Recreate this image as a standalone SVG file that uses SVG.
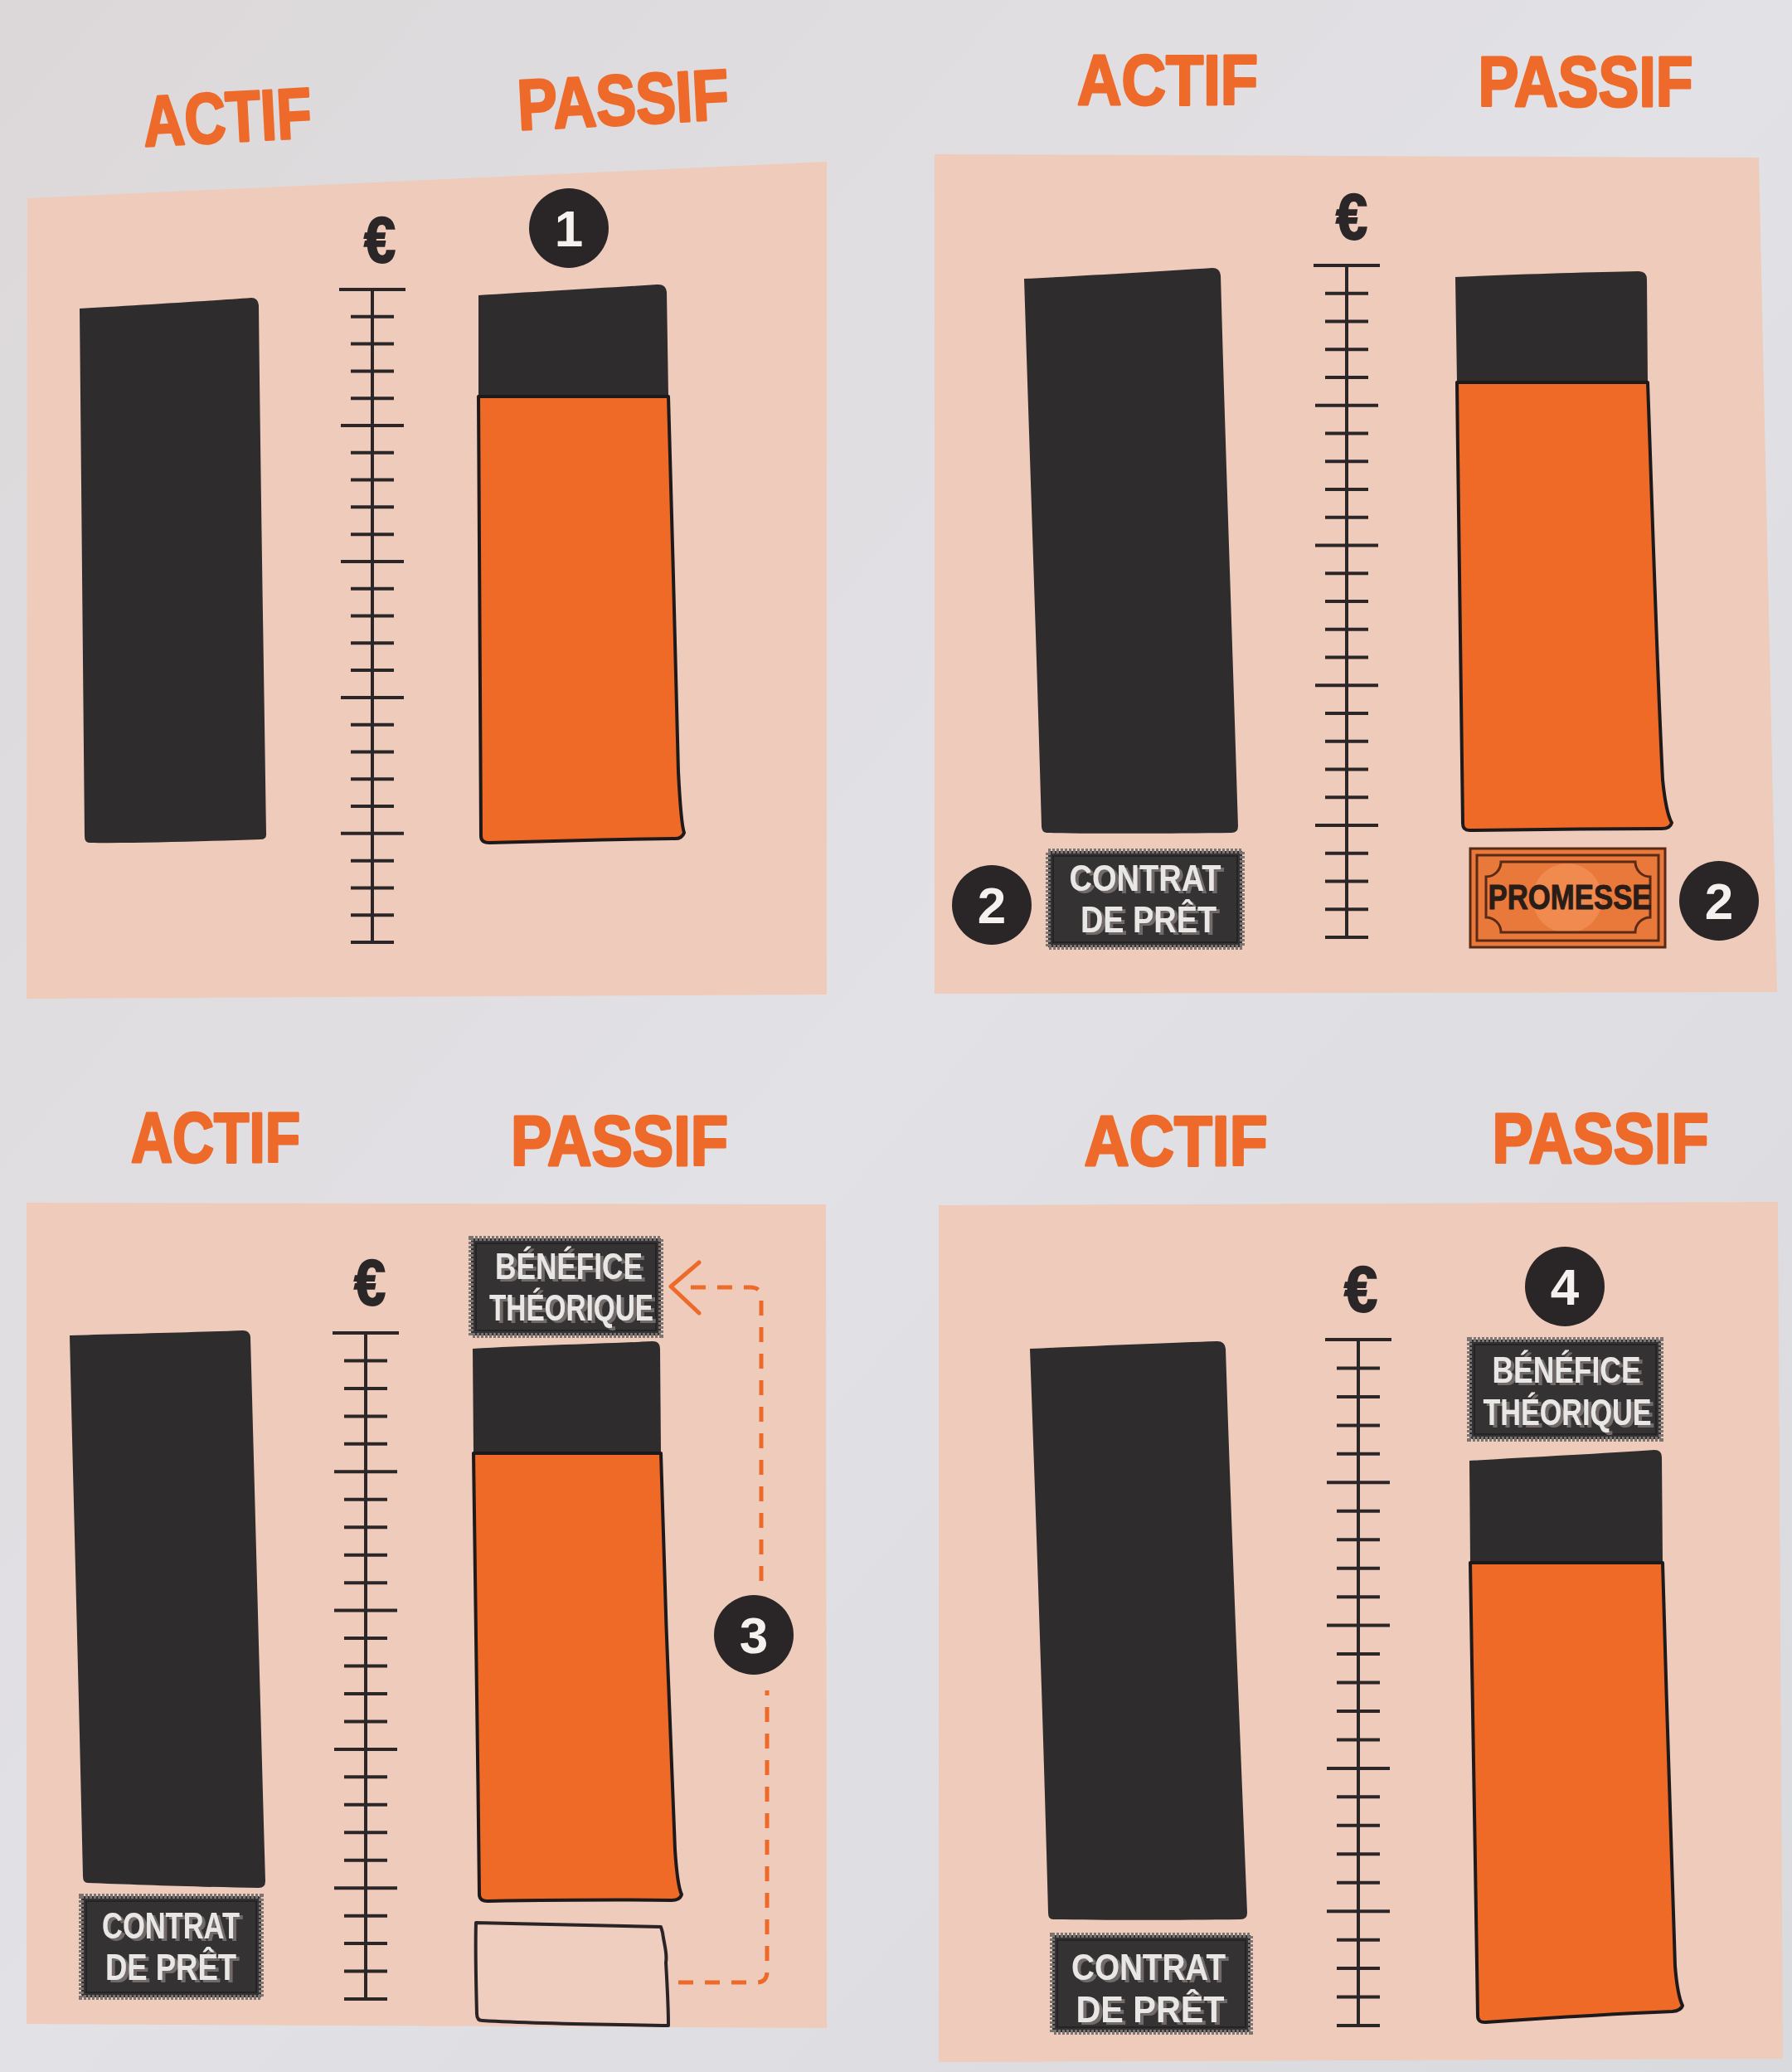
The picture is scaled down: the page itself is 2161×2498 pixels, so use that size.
<svg xmlns="http://www.w3.org/2000/svg" xmlns:xlink="http://www.w3.org/1999/xlink" width="2161" height="2498" viewBox="0 0 2161 2498">
<style>
.hdr{font-family:"Liberation Sans","Noto Sans",sans-serif;font-weight:700;font-size:86px;fill:#ee6a2b;stroke:#ee6a2b;stroke-width:3;stroke-linejoin:round;text-anchor:middle}
.panel{fill:#efcbbb}
.dark{fill:#2f2c2d}
.orange{fill:#ee6a26;stroke:#1e1a1b;stroke-width:4;stroke-linejoin:round}
.euro{font-family:"Liberation Sans","DejaVu Sans",sans-serif;font-weight:700;font-size:78px;fill:#2b2728;stroke:#2b2728;stroke-width:2;text-anchor:middle}
.badge{fill:#2a2627}
.num{font-family:"Liberation Sans","DejaVu Sans",sans-serif;font-weight:700;font-size:62px;fill:#f4f1ef;text-anchor:middle}
.lbl{fill:#353233;stroke:#7a7472;stroke-width:6;stroke-dasharray:3 2}
.lblin{fill:none;stroke:#262324;stroke-width:2}
.lt{font-family:"Liberation Sans","DejaVu Sans",sans-serif;font-weight:700;font-size:45px;fill:#e9e7e5;text-anchor:middle;filter:url(#shade)}
.prom{fill:#e9793b;stroke:#5a2a16;stroke-width:3}
.promline{fill:none;stroke:#5a2a16;stroke-width:3}
.pt{font-family:"Liberation Sans","DejaVu Sans",sans-serif;font-weight:700;font-size:43px;fill:#2a1c17;stroke:#2a1c17;stroke-width:1;text-anchor:middle}
.empty{fill:#efcdbf;stroke:#2a2426;stroke-width:4;stroke-linejoin:round;stroke-linecap:round}
.dash{fill:none;stroke:#ee6a2b;stroke-width:5;stroke-dasharray:18 14}
.arrow{fill:none;stroke:#ee6a2b;stroke-width:5;stroke-linecap:round;stroke-linejoin:round}
</style>
<defs>
<linearGradient id="paper" x1="0" y1="0" x2="1" y2="1">
<stop offset="0" stop-color="#dcd8da"/>
<stop offset="0.5" stop-color="#e2e1e5"/>
<stop offset="1" stop-color="#d9dade"/>
</linearGradient>
<filter id="shade" x="-10%" y="-20%" width="130%" height="150%">
<feDropShadow dx="4" dy="3" stdDeviation="0" flood-color="#726b69" flood-opacity="1"/>
</filter>
<g id="ruler" fill="none" stroke="#2b2628" stroke-width="4">
<path d="M0,0 V792 M-40,0 H40 M-38,165 H38 M-38,330 H38 M-38,495 H38 M-38,660 H38 M-26,33 H26 M-26,66 H26 M-26,99 H26 M-26,132 H26 M-26,198 H26 M-26,231 H26 M-26,264 H26 M-26,297 H26 M-26,363 H26 M-26,396 H26 M-26,429 H26 M-26,462 H26 M-26,528 H26 M-26,561 H26 M-26,594 H26 M-26,627 H26 M-26,693 H26 M-26,726 H26 M-26,759 H26 M-26,792 H26" vector-effect="non-scaling-stroke"/>
</g>
</defs>

<rect id="page" x="0" y="0" width="2161" height="2498" fill="url(#paper)"/>

<!-- ================= PANEL 1 ================= -->
<g id="panel1">
<path class="panel" d="M33,239 L997,195 L997,1199 L32,1204 Z"/>
<g id="p1-headers">
<text class="hdr" x="274" y="171" textLength="203" lengthAdjust="spacingAndGlyphs" transform="rotate(-3 274 140)">ACTIF</text>
<text class="hdr" x="751" y="150" textLength="255" lengthAdjust="spacingAndGlyphs" transform="rotate(-3 751 115)">PASSIF</text>
</g>
<g id="p1-actif-bar">
<path class="dark" d="M96,372 C150,369 250,363 303,359 Q311,359 312,368 C314,560 318,800 321,1004 Q322,1012 314,1012 C250,1014 160,1017 108,1016 Q102,1016 102,1008 C100,800 98,580 96,372 Z"/>
</g>
<g id="p1-ruler">
<use xlink:href="#ruler" transform="translate(449 349) scale(1 0.9937)"/>
<text class="euro" x="458" y="316" textLength="38" lengthAdjust="spacingAndGlyphs">€</text>
</g>
<g id="p1-passif-bar">
<path class="dark" d="M577,356 C640,352 730,347 792,343 Q803,342 804,352 L806,478 L577,478 Z"/>
<path class="orange" d="M577,478 L806,478 C810,620 815,800 818,930 C820,970 822,995 825,1004 Q822,1012 812,1011 C740,1012 650,1014 590,1016 Q580,1016 580,1008 C579,850 578,650 577,478 Z"/>
</g>
<g id="badge1">
<circle class="badge" cx="686" cy="275" r="48"/>
<text class="num" x="686" y="297">1</text>
</g>
</g>

<!-- ================= PANEL 2 ================= -->
<g id="panel2">
<path class="panel" d="M1127,186 L2121,190 L2143,1196 L1127,1198 Z"/>
<g id="p2-headers">
<text class="hdr" x="1408" y="126" textLength="218" lengthAdjust="spacingAndGlyphs">ACTIF</text>
<text class="hdr" x="1912" y="128" textLength="259" lengthAdjust="spacingAndGlyphs">PASSIF</text>
</g>
<g id="p2-actif-bar">
<path class="dark" d="M1235,336 C1300,333 1400,327 1462,323 Q1471,323 1472,332 C1478,550 1487,800 1493,996 Q1493,1004 1485,1004 C1410,1005 1320,1005 1262,1004 Q1256,1003 1256,996 C1250,780 1242,560 1235,336 Z"/>
</g>
<g id="p2-ruler">
<use xlink:href="#ruler" transform="translate(1624 320) scale(1 1.0227)"/>
<text class="euro" x="1630" y="288" textLength="38" lengthAdjust="spacingAndGlyphs">€</text>
</g>
<g id="p2-passif-bar">
<path class="dark" d="M1755,334 C1820,331 1920,328 1976,327 Q1986,327 1986,337 L1987,461 L1757,461 Z"/>
<path class="orange" d="M1757,461 L1987,461 C1992,600 1998,800 2005,940 C2008,970 2012,985 2016,992 Q2014,999 2004,999 C1930,999 1840,1000 1772,1001 Q1764,1001 1764,993 C1762,820 1759,640 1757,461 Z"/>
</g>
<g id="p2-contrat">
<rect class="lbl" x="1264" y="1026" width="234" height="116"/>
<rect class="lblin" x="1270" y="1032" width="222" height="104"/>
<text class="lt" x="1381" y="1074" textLength="183" lengthAdjust="spacingAndGlyphs">CONTRAT</text>
<text class="lt" x="1385" y="1124" textLength="164" lengthAdjust="spacingAndGlyphs">DE PRÊT</text>
</g>
<g id="badge2-left">
<circle class="badge" cx="1196" cy="1091" r="48"/>
<text class="num" x="1196" y="1113">2</text>
</g>
<g id="p2-promesse">
<rect class="prom" x="1773" y="1023" width="235" height="119"/>
<rect class="promline" x="1781" y="1031" width="219" height="103"/>
<circle cx="1890" cy="1083" r="42" fill="#f08a4e"/>
<path class="promline" d="M1810,1039 H1972 A18,18 0 0 0 1990,1057 V1106 A18,18 0 0 0 1972,1124 H1810 A18,18 0 0 0 1792,1106 V1057 A18,18 0 0 0 1810,1039 Z"/>
<text class="pt" x="1893" y="1096" textLength="197" lengthAdjust="spacingAndGlyphs">PROMESSE</text>
</g>
<g id="badge2-right">
<circle class="badge" cx="2073" cy="1086" r="48"/>
<text class="num" x="2073" y="1108">2</text>
</g>
</g>

<!-- ================= PANEL 3 ================= -->
<g id="panel3">
<path class="panel" d="M32,1450 L996,1452 L997,2445 L32,2440 Z"/>
<g id="p3-headers">
<text class="hdr" x="260" y="1401" textLength="204" lengthAdjust="spacingAndGlyphs">ACTIF</text>
<text class="hdr" x="747" y="1405" textLength="262" lengthAdjust="spacingAndGlyphs">PASSIF</text>
</g>
<g id="p3-actif-bar">
<path class="dark" d="M84,1610 C150,1608 240,1606 293,1604 Q301,1604 302,1612 C308,1830 314,2060 320,2268 Q320,2276 312,2276 C240,2275 160,2272 106,2270 Q100,2270 100,2262 C95,2040 89,1820 84,1610 Z"/>
</g>
<g id="p3-contrat">
<rect class="lbl" x="98" y="2286" width="217" height="122"/>
<rect class="lblin" x="104" y="2292" width="205" height="110"/>
<text class="lt" x="206" y="2337" textLength="166" lengthAdjust="spacingAndGlyphs">CONTRAT</text>
<text class="lt" x="206" y="2387" textLength="158" lengthAdjust="spacingAndGlyphs">DE PRÊT</text>
</g>
<g id="p3-ruler">
<use xlink:href="#ruler" transform="translate(441 1607) scale(1 1.0139)"/>
<text class="euro" x="446" y="1573" textLength="38" lengthAdjust="spacingAndGlyphs">€</text>
</g>
<g id="p3-benefice">
<rect class="lbl" x="568" y="1493" width="229" height="117"/>
<rect class="lblin" x="574" y="1499" width="217" height="105"/>
<text class="lt" x="686" y="1542" textLength="178" lengthAdjust="spacingAndGlyphs">BÉNÉFICE</text>
<text class="lt" x="689" y="1592" textLength="198" lengthAdjust="spacingAndGlyphs">THÉORIQUE</text>
</g>
<g id="p3-passif-bar">
<path class="dark" d="M570,1626 C640,1622 730,1620 787,1617 Q796,1617 796,1626 L797,1752 L571,1752 Z"/>
<path class="orange" d="M571,1752 L797,1752 C801,1900 808,2100 814,2230 C816,2260 818,2276 822,2284 Q820,2291 810,2291 C740,2290 650,2291 588,2292 Q578,2292 578,2284 C576,2100 573,1900 571,1752 Z"/>
</g>
<g id="p3-empty-box">
<path class="empty" d="M574,2318 C650,2320 730,2321 797,2323 L799,2330 C801,2345 805,2355 803,2366 C805,2400 806,2425 806,2442 C740,2441 650,2440 582,2436 Q575,2436 575,2428 C574,2390 573,2350 574,2318 Z"/>
</g>
<g id="badge3">
<circle class="badge" cx="909" cy="1971" r="48"/>
<text class="num" x="909" y="1993">3</text>
</g>
</g>

<!-- ================= PANEL 4 ================= -->
<g id="panel4">
<path class="panel" d="M1132,1453 L2144,1449 L2150,2482 L1132,2486 Z"/>
<g id="p4-headers">
<text class="hdr" x="1418" y="1405" textLength="221" lengthAdjust="spacingAndGlyphs">ACTIF</text>
<text class="hdr" x="1930" y="1402" textLength="261" lengthAdjust="spacingAndGlyphs">PASSIF</text>
</g>
<g id="p4-actif-bar">
<path class="dark" d="M1242,1626 C1310,1623 1410,1619 1468,1617 Q1477,1617 1478,1626 C1485,1850 1495,2080 1504,2306 Q1504,2314 1496,2314 C1420,2315 1330,2315 1270,2314 Q1264,2314 1264,2306 C1258,2080 1250,1850 1242,1626 Z"/>
</g>
<g id="p4-contrat">
<rect class="lbl" x="1269" y="2333" width="239" height="117"/>
<rect class="lblin" x="1275" y="2339" width="227" height="105"/>
<text class="lt" x="1385" y="2387" textLength="186" lengthAdjust="spacingAndGlyphs">CONTRAT</text>
<text class="lt" x="1387" y="2438" textLength="179" lengthAdjust="spacingAndGlyphs">DE PRÊT</text>
</g>
<g id="p4-ruler">
<use xlink:href="#ruler" transform="translate(1638 1615) scale(1 1.0442)"/>
<text class="euro" x="1641" y="1581" textLength="40" lengthAdjust="spacingAndGlyphs">€</text>
</g>
<g id="badge4">
<circle class="badge" cx="1887" cy="1551" r="48"/>
<text class="num" x="1887" y="1573">4</text>
</g>
<g id="p4-benefice">
<rect class="lbl" x="1772" y="1615" width="231" height="120"/>
<rect class="lblin" x="1778" y="1621" width="219" height="108"/>
<text class="lt" x="1889" y="1667" textLength="179" lengthAdjust="spacingAndGlyphs">BÉNÉFICE</text>
<text class="lt" x="1890" y="1718" textLength="203" lengthAdjust="spacingAndGlyphs">THÉORIQUE</text>
</g>
<g id="p4-passif-bar">
<path class="dark" d="M1772,1761 C1840,1757 1940,1752 1995,1748 Q2004,1748 2004,1757 L2005,1884 L1773,1884 Z"/>
<path class="orange" d="M1773,1884 L2005,1884 C2010,2050 2015,2250 2020,2370 C2022,2395 2025,2410 2029,2418 Q2027,2424 2017,2425 C1940,2428 1850,2434 1792,2438 Q1782,2439 1782,2430 C1779,2250 1776,2050 1773,1884 Z"/>
</g>
</g>

<!-- ================= CONNECTORS ================= -->
<g id="connectors">
<path class="dash" d="M818,2390 H912 Q925,2390 925,2377 V2038"/>
<path class="dash" d="M918,1906 V1565 Q918,1552 905,1552 H828"/>
<path class="arrow" d="M843,1522 L809,1551 L843,1583"/>
</g>
</svg>
